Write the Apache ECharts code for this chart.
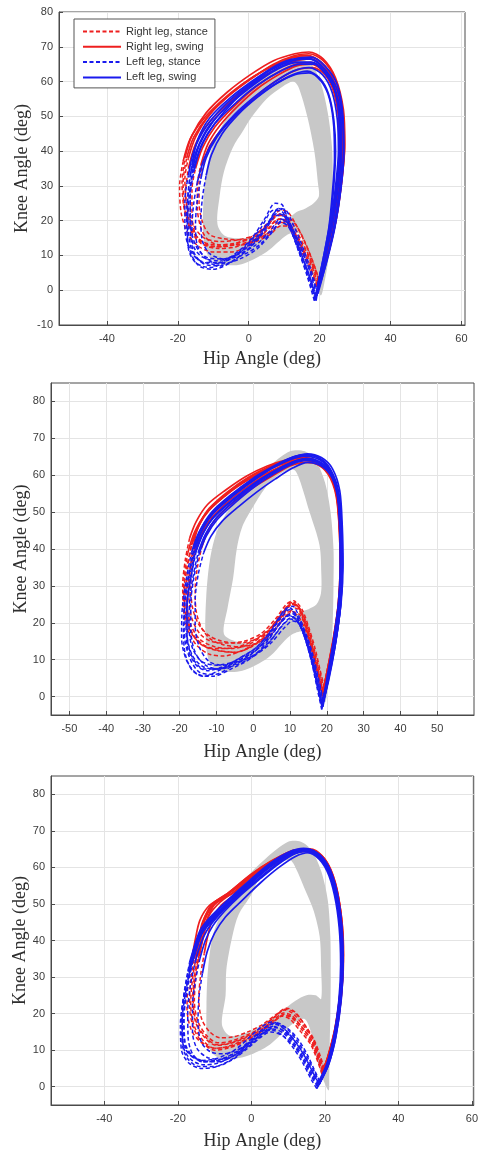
<!DOCTYPE html>
<html>
<head>
<meta charset="utf-8">
<title>Hip-knee angle-angle diagrams</title>
<script src="https://cdn.jsdelivr.net/npm/echarts@6/dist/echarts.min.js"></script>
<style>
  html, body { margin: 0; padding: 0; background: #ffffff; }
  #chart { width: 481px; height: 1154px; }
</style>
</head>
<body>
<div id="chart"></div>
<script>
// ---------- tick values ----------
const p1HipTicks = [-40, -20, 0, 20, 40, 60];
const p1KneeTicks = [-10, 0, 10, 20, 30, 40, 50, 60, 70, 80];
const p2HipTicks = [-50, -40, -30, -20, -10, 0, 10, 20, 30, 40, 50];
const p2KneeTicks = [0, 10, 20, 30, 40, 50, 60, 70, 80];
const p3HipTicks = [-40, -20, 0, 20, 40, 60];
const p3KneeTicks = [0, 10, 20, 30, 40, 50, 60, 70, 80];

// ---------- legend entries ----------
const legendNames = ['Right leg, stance', 'Right leg, swing', 'Left leg, stance', 'Left leg, swing'];

// ---------- normative band (outer edge and inner edge, clockwise) [hip, knee] ----------
const p1NormOuter = [[20.3,-1.5],[18,5],[16,12],[14,16.5],[11,16],[5,11],[-2,7.5],[-8,7.5],[-11.5,10],[-12.8,16],[-12.8,25],[-12,34],[-10,42],[-6,50],[-1,57],[5,62],[10.5,65.5],[14.5,66.5],[18,64.5],[20.5,59],[22.3,51],[23.5,41],[23.7,30],[23.4,20],[22.6,10],[21.5,3]];
const p1NormInner = [[19.8,27],[18.3,25],[16,23.5],[13.5,22.5],[10.5,20],[5,16.5],[-1,15],[-6.5,15.5],[-8.8,19],[-8.2,27],[-7,34],[-4.5,41],[-1.5,46],[1,50],[5,55],[9.5,58.5],[12.5,60],[14,58.5],[16.5,50],[18.5,40],[19.5,31]];

const p2NormOuter = [[19.5,-1.5],[17.5,6],[15.5,13],[13.5,17.5],[10,16.5],[4,10.5],[-3,7],[-9,7],[-12,9.5],[-13,17],[-12.8,27],[-11.8,37],[-9.8,45],[-5.8,52],[0,58.5],[5,63],[10,66.5],[14,66.5],[17,64],[19.5,58],[21,50],[21.8,40],[21.8,30],[21.6,20],[21,10],[20.3,3]];
const p2NormInner = [[18.4,28],[17.2,25],[15,23.7],[12.5,22.8],[10,21],[5,16.5],[0,14.5],[-5,15],[-8,17],[-7,24],[-5.5,32],[-4.5,40],[-3,46],[0,51.5],[3.6,57],[7.5,60.5],[11,61.5],[12.5,59],[15.3,50],[18,41],[18.5,33]];

const p3NormOuter = [[21,-1],[18.5,5],[16.5,14],[14.5,18.5],[11,17],[5,11.5],[-1,8.5],[-7,7.5],[-10.5,9],[-12,13],[-12.2,22],[-11.8,32],[-10.3,42],[-6.8,50],[-2,56.5],[4,62.5],[10,67],[13.5,67],[16.5,64.5],[19,59],[20.8,51],[21.5,41],[21.6,30],[21.5,20],[21.3,10],[21.2,3]];
const p3NormInner = [[19,24],[17.5,25],[15,25],[12,23.5],[8,20.5],[3,17],[-2,14.5],[-6,14],[-8,17],[-7,25],[-6.8,32],[-5.2,41],[-3.5,47],[0,52.5],[2.3,57],[7.5,61],[10.5,62],[12,60],[15,53],[17,48],[18.6,41],[19,32]];

// ---------- panel 1 trials [hip, knee] ----------
const p1RightStance = [
  [[19.5,2],[17.5,7.5],[14.5,13.5],[12,18.5],[10,21.5],[8,21.5],[5,18],[1,15],[-4,13.5],[-9,13],[-13,14],[-16,17],[-18,23],[-18.5,31],[-17.5,38]],
  [[19.8,3],[17.8,8],[15.5,13],[13,18],[11,21],[9,22],[6,19.5],[2,16],[-3,14.5],[-8,14],[-12.5,15],[-15.5,18.5],[-17.5,25],[-18,32],[-17,38]],
  [[19,1],[17,6.5],[14,13],[11.5,18],[9.5,20.5],[7.5,20],[4,16],[-0.5,12.5],[-5,11],[-10,11],[-14,12.5],[-17,16],[-19,22],[-19.5,30],[-18.5,37]],
  [[20,2.5],[18,8.5],[15.5,14.5],[13,19.5],[11,22.5],[9,23],[6,20],[2.5,16.5],[-2,14],[-7,12.5],[-11.5,13],[-15,16],[-17,21],[-17.8,28],[-17,35]],
  [[19.3,1.5],[17.2,7],[14.8,12.5],[12.5,17],[10.5,19.5],[8.5,19.5],[5,16],[0.5,14],[-4.5,13],[-9.5,12.5],[-13.5,13.5],[-16.5,17.5],[-18.3,24],[-18.8,31],[-18,38]],
  [[19.6,2.5],[17.8,7.5],[15.5,12.5],[13,16.5],[11,18.5],[9,18.5],[6,16],[2,14],[-3,13],[-8,13],[-11.5,14.5],[-13.5,18],[-14.5,24],[-14.5,30],[-13.5,36]],
  [[19.8,3],[18,8.5],[15.8,14],[13.5,18.5],[11.5,20.5],[9.5,20],[6.5,17],[2.5,15],[-2,14.5],[-7,14.8],[-11,16],[-13,19.5],[-14,25],[-14,31],[-13,36]],
  [[19.4,1],[17.4,6.5],[15,12],[12.5,17],[10.5,20],[8.5,20.5],[5.5,17.5],[1.5,14.5],[-3.5,12.5],[-8.5,12],[-12.5,13],[-15,16],[-16,22],[-16,29],[-15,35]]
];
const p1RightSwing = [
  [[-17.5,38],[-15.5,44],[-11.5,50],[-5.5,56],[1,61],[7,65],[13,67.5],[17,68],[21,66],[24.5,60.5],[26.5,51],[27,41],[26.2,31],[24.6,20],[22.6,11],[20.5,5],[19.5,2]],
  [[-17,38],[-15,44],[-11,50.5],[-5,56.5],[1.5,61.5],[8,65],[13.5,67],[17.5,67],[21.3,64.5],[24.5,59],[26.2,50],[26.5,40],[25.7,30],[24.2,20],[22.3,11],[20.6,5.5],[19.8,3]],
  [[-18.5,37],[-16.5,43.5],[-12.5,49.5],[-6.5,55.5],[0,60.5],[6.5,64.5],[12.5,67],[16.5,67.5],[20.5,65.5],[24,60],[26,51],[26.5,41],[25.8,31],[24.3,21],[22.2,11],[20,4],[19,1]],
  [[-17,35],[-15,42],[-11,48.5],[-5,54.5],[1,59.5],[7.5,63.5],[13.5,66],[17.5,66.5],[21.5,63.5],[24.8,58],[26.5,49],[26.7,39],[25.8,29],[24.2,19],[22.3,10],[20.7,4.5],[20,2.5]],
  [[-18,38],[-16,44.5],[-12,51],[-6,57],[0.5,62],[7,66],[13,68],[17,68.5],[21,66.5],[24.5,61],[26.7,52],[27.1,42],[26.3,32],[24.8,21],[22.5,11],[20.3,4],[19.3,1.5]],
  [[-13.5,36],[-11.5,42],[-8,47.5],[-3,53],[2.5,58],[8.5,62],[13.5,64.5],[17.5,65],[21,63],[23.8,58],[25.3,50],[25.6,41],[25,31],[23.8,21],[22,11.5],[20.5,5.5],[19.6,2.5]],
  [[-13,36],[-11,41.5],[-7,47],[-2,52],[3.5,57],[9,61],[14,63.5],[18,64],[21.5,62],[24,57],[25.5,49],[25.8,40],[25.2,30],[24,20],[22.2,11],[20.8,6],[19.8,3]],
  [[-15,35],[-13,41],[-9.5,47],[-4,53],[2,58.5],[8,62.5],[13.5,65],[17.5,65.5],[21.2,63.5],[24.2,58.5],[26,50],[26.3,40],[25.5,30],[24,20],[22.2,10.5],[20.3,4],[19.4,1]]
];
const p1LeftStance = [
  [[19,-3],[17.5,3],[15,10],[12.5,17],[10.5,22],[8.5,23.5],[6,20],[2,14],[-3,9.5],[-8,7],[-12.5,7.5],[-15.5,11],[-16.5,18],[-16.5,27],[-15.5,34]],
  [[18.8,-2.5],[16.5,5],[13.5,13],[11,20],[9.5,24.5],[7.5,25],[4.5,20.5],[0.5,14.5],[-4.5,10],[-10,7.5],[-14.5,9],[-17,13],[-17.5,21],[-17,29],[-16,36]],
  [[19.2,-1.5],[17.2,5.5],[14.8,12],[12.5,17.5],[10.5,21],[8,21.5],[4.5,17],[0,12],[-5,8],[-10,6],[-14,7],[-16.5,11],[-18,18],[-18,26],[-17,33]],
  [[18.5,-3],[16.5,4],[14,11.5],[11.5,18.5],[9.5,22.5],[7,23],[3.5,18],[-1,12.5],[-6,8.5],[-11,6.5],[-15,8],[-17,12],[-17.3,19],[-16.8,27],[-15.8,35]],
  [[19,-2],[17,4.5],[15,10],[13,15.5],[11,19.5],[9,20.5],[6,17],[2,13],[-2.5,10.5],[-7.5,9],[-12,9.5],[-15,13],[-16.5,20],[-16.5,28],[-15.5,35]],
  [[19.5,-1],[17.5,6],[15,13],[12.5,19],[10.5,23],[8.5,23.5],[5.5,19.5],[1.5,14.5],[-3,10.5],[-8,8],[-13,8],[-16,11.5],[-17,17],[-17.2,25],[-16.5,33]],
  [[19.3,-1],[17.8,4],[15.8,9.5],[13.5,15],[11.5,19],[9.5,20],[7,17.5],[3,13],[-2,10],[-7,9],[-11,10.5],[-13,14],[-13.5,20],[-13,27],[-12,33]],
  [[19,-2],[17.3,3.5],[15.3,9],[13,14.5],[11,18.5],[9,19.5],[6.5,16.5],[2.5,12],[-2.5,9],[-8,7.5],[-12,9],[-14.5,13],[-15,19],[-14.5,26],[-13.5,32]],
  [[18.8,-2.8],[16.8,4],[14.2,11],[11.8,17.5],[9.8,21.5],[7.8,22],[5,18.5],[1,13.5],[-4,10],[-9,8.5],[-13,9.5],[-15.5,12.5],[-16,18],[-15.5,25],[-14.5,31]]
];
const p1LeftSwing = [
  [[-15.5,34],[-13.5,41],[-9.5,48],[-4,54.5],[2,59.5],[8,63.5],[13.5,65.5],[18,65.5],[21.5,62.5],[24.5,57],[26,48],[26,38],[25,28],[23.5,18],[21.5,9],[19.8,2],[19,-3]],
  [[-16,36],[-14.5,43],[-11,49.5],[-5,55.5],[1.5,60.5],[7.5,64.5],[13,66.5],[17.5,66.5],[21.5,63.5],[25,57.5],[26.5,49],[26.8,39],[26,29],[24.3,18],[22.2,9],[20.2,2],[18.8,-2.5]],
  [[-17,33],[-15.5,40],[-12,47],[-6.5,53.5],[0,59],[6.5,63.5],[12.5,66],[17,66.5],[21,64],[24,58.5],[25.5,50],[25.8,40],[25,30],[23.5,20],[21.8,10],[20,3],[19.2,-1.5]],
  [[-15.8,35],[-13.8,42],[-10,48.5],[-4.5,54.5],[1.5,59.5],[7.5,63.5],[13,65.5],[17.5,65.5],[21.8,62],[24.8,56],[26.2,47],[26.2,37],[25.3,27],[23.8,17],[21.8,8],[19.6,1],[18.5,-3]],
  [[-15.5,35],[-13.2,42],[-9.5,48],[-3.5,54],[2.5,59],[9,63],[14.5,65],[18.5,65],[22,62],[24.5,57],[25.5,49],[25.5,39],[24.6,29],[23.2,19],[21.4,10],[19.8,3],[19,-2]],
  [[-16.5,33],[-14.8,40],[-11,47.5],[-5,54],[1,59.5],[7,64],[13,66.5],[17.5,67],[21.5,64.5],[25,59],[26.6,50],[26.8,40],[26,30],[24.6,20],[22.6,11],[20.6,3],[19.5,-1]],
  [[-12,33],[-10.5,39],[-7.5,45],[-3,50.5],[2.5,55.5],[8,59.5],[13,62],[17,62.5],[20.5,60],[22.8,55],[24,47],[24.2,38],[23.6,28],[22.6,18],[21,9],[19.8,3],[19.3,-1]],
  [[-13.5,32],[-12,38],[-9,44],[-4.5,49.5],[1,54.5],[7,59],[12.5,62],[16.5,63],[20,61],[22.5,56.5],[24,49],[24.5,40],[24,30],[23,20],[21.4,11],[20,4],[19,-2]],
  [[-14.5,31],[-12.5,38],[-9,44.5],[-4,50.5],[1.5,55.5],[7.5,60],[12.5,63],[17,64],[20.8,62],[23.5,57],[25,49],[25.3,40],[24.5,30],[23.2,20],[21.5,10],[19.8,3],[18.8,-2.8]]
];

// ---------- panel 2 trials ----------
const p2RightStance = [
  [[19,1],[17.8,6],[16.3,12.5],[14.5,19],[12.5,24],[10.5,25.5],[8,23],[4.5,18.5],[0.5,15.5],[-4,13.5],[-9,13],[-13,13.5],[-16,16],[-17.8,21],[-18.3,28],[-17.8,35],[-16.8,41]],
  [[18.7,0],[17.5,5.5],[16,12],[14.3,18.5],[12.5,23.5],[11,26],[9,25],[6,21],[2,17],[-2.5,15],[-7.5,14.5],[-11.5,15],[-14.5,17],[-16.8,21.5],[-17.5,28],[-17.2,34.5],[-16.3,40.5]],
  [[19.2,2],[18,7],[16.5,13],[14.8,19],[13,23],[11.3,24],[9,22],[5.5,18],[1.5,15],[-3,12.5],[-8,11],[-12,11.5],[-15.5,14],[-18,18.5],[-19,25],[-18.8,32],[-17.8,39]],
  [[18.9,1.5],[17.7,6.5],[16.2,13],[14.2,20],[12.2,24.5],[10.2,25],[7.5,22],[4,17.5],[0,14],[-4.5,12],[-9.5,12.5],[-13.5,14],[-16.5,17],[-18.3,22],[-18.8,28.5],[-18,35.5],[-16.5,42]],
  [[19.1,0.5],[17.8,5.5],[16.2,12],[14.2,18],[12,22],[9.8,23],[7,20.5],[3.5,16.5],[-0.5,13.5],[-5,12],[-10,12.5],[-14,14],[-17,17.5],[-18.8,23],[-19.2,30],[-18.5,37],[-17.3,43]],
  [[19,1.5],[17.8,6.5],[16.4,12.5],[14.6,18],[12.8,22],[10.8,23],[8.3,21],[5,17],[1,14.5],[-3.5,13.5],[-8,14],[-11.5,15.5],[-14,18.5],[-15.5,23],[-15.8,29],[-15.2,35],[-14,40.5]],
  [[18.8,1],[17.6,6],[16.1,12.5],[14.3,19],[12.4,24],[10.5,25],[8,22],[4.5,18],[0.5,15.5],[-4,14.5],[-8.5,15],[-12,16.5],[-14.8,19.5],[-16.5,24],[-17,30],[-16.5,36],[-15.3,41.5]],
  [[19.3,2.5],[18.2,7],[16.8,13],[15,19],[13.3,23.5],[11.5,25.5],[9.2,24],[6,20],[2.5,16.5],[-1.5,14],[-6,13],[-10.5,13.5],[-14.5,15.5],[-17,19.5],[-18,25.5],[-17.6,32],[-16.3,38.5]]
];
const p2RightSwing = [
  [[-16.8,41],[-15,46],[-12,50.5],[-7,55],[-1,59],[4.5,61.8],[9.5,63.5],[13.5,64.3],[17.5,63.5],[20.8,60.5],[22.8,54.5],[23.6,45],[23.8,35],[23.3,25],[21.8,15],[20.3,7],[19,1]],
  [[-16.3,40.5],[-15.3,45],[-13,49.5],[-8.5,54],[-2.5,58.5],[3,61.5],[8.5,63.5],[12.5,64.2],[16.8,63.3],[20.3,60.3],[22.5,54.5],[23.4,45],[23.6,35],[23.1,25],[21.6,15],[20,6.5],[18.7,0]],
  [[-17.8,39],[-16,44.5],[-13,49.5],[-7.5,54.5],[-1.5,59],[4,62],[9,64],[13,64.8],[17,64],[20.5,61],[22.7,55],[23.6,45.5],[23.8,35.5],[23.3,25.5],[21.9,15.5],[20.5,7.5],[19.2,2]],
  [[-16.5,42],[-14.8,46.5],[-12,51],[-7,55.5],[-1.2,59.5],[4.2,62.3],[9.2,64],[13.2,64.6],[17.2,63.8],[20.6,60.8],[22.8,55],[23.7,45.5],[23.9,35.5],[23.4,25.5],[21.9,15.5],[20.3,7],[18.9,1.5]],
  [[-17.3,43],[-15.5,47.5],[-12.5,52],[-7.5,56],[-1.8,59.8],[3.8,62.5],[9,64.2],[13,64.8],[17,64],[20.4,61],[22.6,55],[23.5,45],[23.7,35],[23.2,25],[21.8,15],[20.4,6.5],[19.1,0.5]],
  [[-14,40.5],[-12.3,45],[-9.5,49],[-5,53],[0.5,57],[5.5,60],[10,62.5],[14,63.5],[17.8,62.8],[20.9,59.8],[22.7,54],[23.4,45],[23.6,35],[23.1,25],[21.7,15],[20.2,7.5],[19,1.5]],
  [[-15.3,41.5],[-13.5,46],[-10.8,50.3],[-6.3,54.3],[-0.5,58.3],[5,61.2],[9.8,63.3],[13.8,64],[17.6,63.2],[20.7,60.2],[22.7,54.5],[23.5,45],[23.7,35],[23.2,25],[21.7,15],[20.1,7],[18.8,1]],
  [[-16.3,38.5],[-14.3,43.8],[-11.3,48.5],[-6.3,53.3],[-0.3,57.8],[5.2,61],[10.2,63.3],[14.2,64.2],[18,63.4],[21,60.4],[23,54.7],[23.8,45.2],[24,35.2],[23.5,25.2],[22,15.2],[20.5,7.5],[19.3,2.5]]
];
const p2LeftStance = [
  [[18.7,-3],[17.3,3.5],[15.8,10.5],[13.8,17.5],[11.8,22],[9.8,23.5],[7.2,21],[3.5,15.5],[-0.5,11.5],[-5.5,8.5],[-10.5,6],[-14.5,6.5],[-17.3,10.5],[-18.8,17.5],[-18.7,25.5],[-17.6,33],[-16,40]],
  [[18.5,-2],[17.2,4],[15.5,11],[13.5,17.5],[11.5,21],[9.5,22],[7,19.5],[3.5,14.5],[-0.5,10.5],[-6,7.5],[-11,5.5],[-15,6],[-18,9.5],[-19.5,16],[-19.3,24],[-18.2,32],[-16.8,39]],
  [[19,-1.5],[17.8,4],[16.2,10],[14.5,16],[12.5,20.5],[10.5,22.5],[8,21],[4.5,16.5],[0.5,12.5],[-4.5,9.5],[-9.5,7.5],[-13.5,7.5],[-16.5,10.5],[-18,16.5],[-18,24],[-17,32],[-15.5,39.5]],
  [[18.6,-3.5],[17.3,2.5],[15.8,9.5],[13.8,16.5],[11.8,21.5],[10,24],[7.8,22.5],[4.5,17.5],[0.5,13],[-4.5,10],[-9.5,7],[-13.5,5.5],[-16.5,7],[-18.5,11.5],[-19,18.5],[-18.5,26],[-17.5,33],[-16.2,40]],
  [[18.8,-2.5],[17.5,3],[16,9.5],[14.2,15.5],[12.3,20],[10.5,21.5],[8,19.5],[4.5,15],[0.5,11.5],[-4.5,9],[-9.5,7.5],[-13.5,8],[-16.5,11],[-18,17],[-18,24.5],[-17,32],[-15.8,39]],
  [[18.9,-2.8],[17.6,3.5],[16.2,10],[14.3,16.8],[12.5,21.5],[10.7,24.5],[8.5,23.5],[5,18],[1,13.5],[-3.5,10.5],[-8.5,8],[-12.5,7],[-15.5,8.5],[-17.8,13],[-18.3,20],[-17.8,28],[-16.8,35],[-15.5,41]],
  [[19,-1],[17.8,4.5],[16.4,10.5],[14.7,16],[12.8,19.5],[10.8,20.5],[8.3,18.5],[4.8,14.5],[0.8,11.5],[-4,9.5],[-8.5,8.5],[-12,9.5],[-14.5,13],[-15.8,19],[-15.8,26],[-15,33],[-13.5,39]],
  [[18.8,-2],[17.5,4],[16,10],[14.2,16],[12.2,20],[10.2,21],[7.7,19],[4.2,14.5],[0.2,11],[-4.8,8.5],[-9.5,7.5],[-13,8.5],[-15.8,12],[-17,18],[-17,25],[-16.2,32],[-14.8,38.5]],
  [[18.7,-2.5],[17.4,3],[15.9,9.5],[14,16],[12,20.5],[10,22],[7.5,20],[4,15.5],[0,12],[-5,9.5],[-10,8.5],[-14,9.5],[-16.5,13],[-17.5,19],[-17.3,26],[-16.3,33],[-15,39]]
];
const p2LeftSwing = [
  [[-16,40],[-14,45],[-11,49.5],[-6,54],[0,58.5],[5,61.8],[10,64.2],[14,65.2],[18,64.2],[21,61.2],[23,55],[23.8,45],[24,35],[23.5,25],[22,14],[20.3,5],[18.7,-3]],
  [[-16.8,39],[-14.8,44.5],[-11.8,49],[-6.8,53.8],[-0.5,58.5],[4.8,61.8],[9.8,64.5],[13.8,65.5],[17.8,64.7],[21,61.5],[23.2,55.5],[24,45.5],[24.2,35],[23.7,25],[22.2,14],[20.3,5],[18.5,-2]],
  [[-15.5,39.5],[-13.5,44.5],[-10.5,49],[-5.5,53.5],[0.5,58],[5.5,61],[10.5,63.5],[14.5,64.5],[18.2,63.5],[21.2,60.5],[23.2,54.5],[24,44.5],[24.2,34.5],[23.7,24.5],[22.2,13.5],[20.5,4.5],[19,-1.5]],
  [[-16.2,40],[-14.3,45.3],[-11.3,50],[-6.3,54.5],[-0.3,59],[4.7,62],[9.7,64.5],[13.7,65.5],[17.7,64.8],[20.8,61.8],[22.8,56],[23.6,46],[23.8,36],[23.3,26],[21.8,15],[20.1,5.5],[18.6,-3.5]],
  [[-15.8,39],[-13.8,44],[-10.8,48.5],[-5.8,53],[0.2,57.5],[5.2,60.8],[10.2,63.3],[14.2,64.3],[18.2,63.3],[21.2,60.3],[23.2,54.3],[24,44.3],[24.2,34.3],[23.7,24.3],[22.2,13.5],[20.4,4.5],[18.8,-2.5]],
  [[-15.5,41],[-13.5,46],[-10.3,50.5],[-5.3,55],[0.7,59.5],[5.7,62.3],[10.7,64.8],[14.7,65.8],[18.5,64.8],[21.5,61.8],[23.5,55.8],[24.2,45.8],[24.4,35.8],[23.9,25.8],[22.4,15],[20.6,6],[18.9,-2.8]],
  [[-13.5,39],[-11.5,43.5],[-8.5,47.5],[-4,51.5],[1,55.5],[6,59],[10.8,62],[14.8,63.5],[18.5,62.5],[21.3,59.5],[22.9,54],[23.5,45],[23.6,35],[23.1,25],[21.7,14.5],[20.3,5.5],[19,-1]],
  [[-14.8,38.5],[-12.8,43.5],[-9.8,48],[-5,52.5],[0.5,57],[5.5,60.3],[10.5,63],[14.5,64],[18.3,63],[21.2,60],[23,54.5],[23.7,45],[23.9,35],[23.4,25],[22,14],[20.4,5],[18.8,-2]],
  [[-15,39],[-13,44],[-10,48.5],[-5.2,53],[0.3,57.3],[5.3,60.5],[10.3,63.3],[14.3,64.5],[18.1,63.6],[21.1,60.6],[23,55],[23.8,45],[24,35],[23.5,25],[22.1,14],[20.4,5],[18.7,-2.5]]
];

// ---------- panel 3 trials ----------
const p3RightStance = [
  [[19.5,4.5],[18.4,7.5],[16.5,12.5],[14,16],[11,19.5],[8.8,20.2],[6,18.2],[2,15.2],[-2,13.2],[-6,11.8],[-9.5,11.3],[-12.5,13.2],[-15,17.2],[-16,23],[-15.5,30],[-14.5,36]],
  [[19.2,3.5],[18.2,6.5],[16.2,11.5],[13.5,15],[10.5,18.5],[8.3,19.3],[5.5,17.3],[1.5,14.5],[-2.5,12.5],[-6.5,11],[-10,10.5],[-13,12.5],[-15.5,16.5],[-16.5,22.5],[-16,29.5],[-15,35.5]],
  [[19.8,5],[18.9,8],[17,13],[14.5,17],[11.5,20.5],[9.3,21.2],[6.5,19.2],[2.5,16],[-1.5,14],[-5.5,12.5],[-9,12],[-12,13.8],[-14.5,17.8],[-15.5,23.5],[-15,30.5],[-14,36.5]],
  [[19.3,4],[18.3,7],[16.3,12],[13.8,15.5],[10.8,19],[8.5,19.5],[5.5,17.3],[1.5,14.2],[-2.5,12],[-6.5,10.5],[-10,10],[-13.2,12],[-15.7,16],[-16.8,22],[-16.5,29],[-15.5,35]],
  [[19.6,4.8],[18.6,7.8],[16.8,12.8],[14.3,16.5],[11.3,20],[9,21],[6.2,19],[2.2,15.8],[-1.8,13.5],[-5.8,12],[-9.3,11.5],[-12.2,13.3],[-14.8,17.2],[-15.8,23.2],[-15.3,30.2],[-14.2,36]],
  [[19.4,4.2],[18.4,7.2],[16.6,12.2],[14.2,15.8],[11.2,19],[9,19.8],[6.2,17.8],[2.2,14.8],[-1.8,12.6],[-5.8,11],[-9.8,10.5],[-13.5,12],[-16.3,15.5],[-17.5,21.5],[-17.2,28.5],[-16.2,35]],
  [[19.7,4.6],[18.7,7.6],[16.9,12.6],[14.6,16.8],[11.8,20.5],[9.6,21.5],[6.8,19.8],[3,17],[-1,15],[-5,13.6],[-8.5,13.4],[-11.3,15],[-13.5,18.5],[-14.3,24],[-13.8,30.5],[-12.8,36.5]]
];
const p3RightSwing = [
  [[-14.5,36],[-13.5,41.5],[-12.5,46],[-10,50],[-5,53],[0,57.5],[6,61.5],[11.5,64.3],[16,64.8],[19.8,62],[22.5,55.5],[24.2,46],[24.8,36],[24.4,26],[23,16],[21,8.5],[19.5,4.5]],
  [[-15,35.5],[-14,41],[-13,45.5],[-10.8,49.8],[-6,53.2],[-0.5,57.8],[5.5,61.8],[11,64.5],[15.5,65],[19.5,62.3],[22.3,55.8],[24,46.3],[24.6,36.3],[24.2,26.3],[22.8,16.3],[20.8,8.3],[19.2,3.5]],
  [[-14,36.5],[-13,42],[-11.8,46.5],[-9.5,50.5],[-4.5,54],[0.5,58.2],[6.5,62.2],[12,64.8],[16.3,65],[20,62.3],[22.8,56],[24.5,46.5],[25,36.5],[24.6,26.5],[23.3,16.5],[21.3,9],[19.8,5]],
  [[-15.5,35],[-14.3,40.5],[-13.3,45],[-11,49],[-6.5,52.5],[-1,57],[5,61],[10.5,63.8],[15.2,64.5],[19.3,62],[22.2,55.5],[24,46],[24.6,36],[24.2,26],[22.8,16],[20.8,8],[19.3,4]],
  [[-14.2,36],[-12.8,42],[-11.5,46.8],[-8.5,50.5],[-3.8,54],[1.2,58.3],[7.2,62.5],[12.5,64.7],[16.6,64.6],[20.2,61.8],[22.9,55.2],[24.6,45.8],[25.1,35.8],[24.6,25.8],[23.2,15.8],[21.2,8.6],[19.6,4.8]],
  [[-16.2,35],[-15.2,40.5],[-14,45.5],[-11.5,49.5],[-7,52.5],[-2,56.5],[4,60.8],[10,63.8],[15,64.7],[19.2,62.2],[22.2,55.8],[24.1,46.2],[24.7,36.2],[24.3,26.2],[22.9,16.2],[20.9,8.4],[19.4,4.2]],
  [[-12.8,36.5],[-11.8,41.5],[-10.5,46],[-8,49.8],[-3.5,53.2],[1.5,57.5],[7.5,61.7],[12.8,64.3],[16.8,64.5],[20.3,61.8],[22.9,55.5],[24.5,46],[25,36],[24.5,26],[23.1,16],[21.1,8.6],[19.7,4.6]]
];
const p3LeftStance = [
  [[18.3,0.5],[16.8,3],[14.5,7.5],[12,11.5],[9,15],[6,16.5],[3.5,15.5],[0,12.5],[-4,9],[-9,6.5],[-13,6],[-16.5,7.5],[-18.5,11],[-18.8,18],[-18,25],[-16.5,33]],
  [[17.8,-0.5],[16.3,2],[14,6.5],[11.5,10.5],[8.5,14],[5.5,15.5],[3,14.5],[-0.5,11.5],[-4.5,8],[-9.5,5.5],[-13.5,5],[-17,6.5],[-19,10],[-19.3,17],[-18.5,24],[-17.2,31.5]],
  [[18.6,1],[17.2,4],[15,8.5],[12.5,12.5],[9.5,16],[6.8,17.5],[4.2,16.5],[0.8,13.5],[-3.2,10],[-8.2,7.5],[-12.5,7],[-16,8.5],[-18,12],[-18.3,19],[-17.5,26],[-16,34]],
  [[18,0],[16.5,2.5],[14.2,7],[11.7,11],[8.5,14],[5.2,15],[2.5,13.5],[-1,10.5],[-5,7.5],[-10,5.5],[-14,5.5],[-17.2,7.5],[-18.8,12],[-18.8,19.5],[-17.8,27],[-16.2,35]],
  [[18.5,0.8],[17,3.5],[14.8,8],[12.3,12],[9.3,15.5],[6.3,17.2],[3.8,16.3],[0.3,13.3],[-3.7,9.8],[-8.7,7.3],[-12.7,6.8],[-16.2,8.3],[-18.2,11.8],[-18.5,18.8],[-17.7,25.8],[-16.8,31]],
  [[18.2,1.2],[16.7,4],[14.4,8.5],[11.8,12.5],[8.8,16],[5.8,17.7],[3.3,16.8],[-0.2,13.8],[-4.2,10.3],[-9.2,7.8],[-13.2,7.2],[-16.7,8.7],[-18.7,12.2],[-19,19.2],[-18.2,26.2],[-16.8,34]],
  [[18.6,1.5],[17.2,4.5],[15.1,9],[12.7,13],[9.8,16],[7,17],[4.5,15.8],[1,13],[-3,10.5],[-7.5,9],[-11,9.5],[-13.5,12],[-14.5,17],[-14.3,24],[-13.3,31]],
  [[18.4,0.5],[16.9,3.5],[14.7,8],[12.2,12],[9.2,15],[6.4,16.2],[3.9,15],[0.4,12],[-3.6,9],[-8.4,7.5],[-12,8],[-14.8,10.5],[-16,15],[-16,22],[-15.2,29],[-14,35]],
  [[18.1,0.2],[16.6,2.8],[14.3,7.2],[11.8,11.2],[8.8,14.6],[5.9,15.8],[3.3,14.8],[-0.3,12],[-4.3,8.8],[-9.3,6.8],[-13.3,6.8],[-16,9],[-17.2,13.5],[-17.3,20.5],[-16.6,27.5],[-15.3,34]]
];
const p3LeftSwing = [
  [[-16.5,33],[-15,38],[-13.5,42],[-10.5,45.8],[-6,50.3],[0,56],[5.5,60.8],[10.5,63.8],[14.5,64.8],[18,63.5],[21,59.5],[23,53],[24.3,44],[24.7,34],[24.2,24],[22.8,14],[20.8,6],[18.3,0.5]],
  [[-17.2,31.5],[-15.8,37],[-14.2,41.5],[-11.2,45.3],[-6.7,49.8],[-0.5,55.5],[5,60.3],[10,63.5],[14.2,64.5],[17.8,63.2],[20.8,59.2],[22.8,52.8],[24.1,43.8],[24.5,33.8],[24,23.8],[22.5,13.5],[20.3,5],[17.8,-0.5]],
  [[-16,34],[-14.5,39],[-13,43],[-10,46.8],[-5.5,51.2],[0.5,56.8],[6,61.3],[11,64.2],[15,65],[18.4,63.6],[21.3,59.6],[23.3,53.2],[24.6,44.2],[25,34.2],[24.5,24.2],[23.1,14.2],[21.1,6.3],[18.6,1]],
  [[-16.2,35],[-14.6,40],[-12.8,43.8],[-9.8,47.5],[-5.3,51.8],[0.7,57.2],[6.2,61.5],[11.2,64.2],[15,64.8],[18.2,63.2],[21,59],[22.9,52.5],[24.1,43.5],[24.5,33.5],[24,23.5],[22.6,13.5],[20.5,5.5],[18,0]],
  [[-16.8,31],[-15.6,36.5],[-14,41],[-11,45],[-6.5,49.5],[-0.5,55.2],[5,60],[10,63.2],[14,64.3],[17.6,63],[20.6,59],[22.6,52.5],[23.9,43.5],[24.3,33.5],[23.8,23.5],[22.4,13.5],[20.5,5.8],[18.5,0.8]],
  [[-16.8,34],[-15.3,39],[-13.8,43],[-10.8,46.8],[-6.3,51.2],[-0.3,56.6],[5.2,61.2],[10.2,64.2],[14.2,65.2],[17.8,63.9],[20.8,59.9],[22.8,53.4],[24.1,44.4],[24.5,34.4],[24,24.4],[22.6,14.4],[20.6,6.4],[18.2,1.2]],
  [[-13.3,31],[-12,37],[-10,42],[-7,46.5],[-2.5,51],[2.5,55.8],[7.5,60],[12,63],[15.5,64],[18.6,62.8],[21.3,58.8],[23.2,52.3],[24.4,43.3],[24.7,33.3],[24.2,23.3],[22.8,13.3],[20.8,5.8],[18.6,1.5]],
  [[-14,35],[-12.5,40],[-10.5,44],[-7.3,48],[-2.8,52.5],[2.5,57],[7.5,61],[12,63.8],[15.8,64.6],[18.8,63.2],[21.5,59.2],[23.4,52.8],[24.6,43.8],[24.9,33.8],[24.4,23.8],[23,13.8],[21,6],[18.4,0.5]],
  [[-15.3,34],[-13.8,39],[-11.8,43.2],[-8.6,47.2],[-4,51.7],[1.5,56.5],[6.8,60.8],[11.5,63.7],[15.3,64.6],[18.5,63.2],[21.2,59.2],[23.1,52.8],[24.3,43.8],[24.6,33.8],[24.1,23.8],[22.7,13.8],[20.6,5.8],[18.1,0.2]]
];

// ---------- styling ----------
const RIGHT_COLOR = '#ee1f1f';
const LEFT_COLOR = '#1a1aee';
const BAND_COLOR = '#c8c8c8';
const AXIS_COLOR = '#4a4a4a';
const GRID_LINE = '#e4e4e4';
const LABEL_COLOR = '#3c3c3c';
const SANS = '"Liberation Sans", Arial, Helvetica, sans-serif';
const SERIF = '"Liberation Serif", "Times New Roman", serif';

const panels = [
  { grid: { left: 59, top: 12, width: 406, height: 313 }, x: [-53.5, 61], y: [-10, 80],
    hipTicks: p1HipTicks, kneeTicks: p1KneeTicks, xGap: 25, yGap: 28,
    outer: p1NormOuter, inner: p1NormInner,
    rs: p1RightStance, rw: p1RightSwing, ls: p1LeftStance, lw: p1LeftSwing },
  { grid: { left: 51, top: 383, width: 423, height: 332 }, x: [-55, 60], y: [-5, 85],
    hipTicks: p2HipTicks, kneeTicks: p2KneeTicks, xGap: 28, yGap: 21,
    outer: p2NormOuter, inner: p2NormInner,
    rs: p2RightStance, rw: p2RightSwing, ls: p2LeftStance, lw: p2LeftSwing },
  { grid: { left: 51, top: 776, width: 423, height: 329 }, x: [-54.5, 60.5], y: [-5, 85],
    hipTicks: p3HipTicks, kneeTicks: p3KneeTicks, xGap: 27, yGap: 22,
    outer: p3NormOuter, inner: p3NormInner,
    rs: p3RightStance, rw: p3RightSwing, ls: p3LeftStance, lw: p3LeftSwing }
];

function axisCommon(ticks, labelMargin) {
  return {
    nameMoveOverlap: false,
    axisLine: { show: true, onZero: false, lineStyle: { color: AXIS_COLOR, width: 1 } },
    axisTick: { show: true, inside: true, length: 4, customValues: ticks, lineStyle: { color: AXIS_COLOR } },
    axisLabel: { customValues: ticks, margin: labelMargin, color: LABEL_COLOR, fontSize: 11, fontFamily: SANS },
    splitLine: { show: true, lineStyle: { color: GRID_LINE, width: 1 } }
  };
}

// Normative band: ring between an outer and an inner closed edge.
function bandSeries(outer, inner, gi) {
  return {
    type: 'custom', name: 'norm', xAxisIndex: gi, yAxisIndex: gi, silent: true, z: 1,
    data: [outer[0]],
    renderItem: function (params, api) {
      const outerPts = outer.map(function (p) { return api.coord(p); });
      const innerPts = inner.slice().reverse().map(function (p) { return api.coord(p); });
      return {
        type: 'compoundPath',
        shape: { paths: [
          { type: 'polygon', shape: { points: outerPts, smooth: 0.3 } },
          { type: 'polygon', shape: { points: innerPts, smooth: 0.3 } }
        ] },
        style: { fill: BAND_COLOR, stroke: null }
      };
    }
  };
}

function traceSeries(name, trial, gi, color, dashed) {
  return {
    type: 'line', name: name, xAxisIndex: gi, yAxisIndex: gi,
    data: trial, smooth: 0.3, symbol: 'none', showSymbol: false, silent: true, z: 2,
    lineStyle: { color: color, width: dashed ? 1.5 : 1.7, type: dashed ? [4, 2.5] : 'solid' },
    itemStyle: { color: color }
  };
}

const grids = [], xAxes = [], yAxes = [], series = [];
panels.forEach(function (p, gi) {
  grids.push(Object.assign({ show: true, borderColor: AXIS_COLOR, borderWidth: 1, backgroundColor: '#ffffff' }, p.grid));
  xAxes.push(Object.assign({
    type: 'value', gridIndex: gi, min: p.x[0], max: p.x[1], position: 'bottom',
    name: 'Hip Angle (deg)', nameLocation: 'middle', nameGap: p.xGap,
    nameTextStyle: { fontFamily: SERIF, fontSize: 18, color: '#2e2e2e' }
  }, axisCommon(p.hipTicks, 8)));
  yAxes.push(Object.assign({
    type: 'value', gridIndex: gi, min: p.y[0], max: p.y[1], position: 'left',
    name: 'Knee Angle (deg)', nameLocation: 'middle', nameGap: p.yGap, nameRotate: 90,
    nameTextStyle: { fontFamily: SERIF, fontSize: 18, color: '#2e2e2e' }
  }, axisCommon(p.kneeTicks, 6)));

  series.push(bandSeries(p.outer, p.inner, gi));
  p.rs.forEach(function (t) { series.push(traceSeries(legendNames[0], t, gi, RIGHT_COLOR, true)); });
  p.rw.forEach(function (t) { series.push(traceSeries(legendNames[1], t, gi, RIGHT_COLOR, false)); });
  p.ls.forEach(function (t) { series.push(traceSeries(legendNames[2], t, gi, LEFT_COLOR, true)); });
  p.lw.forEach(function (t) { series.push(traceSeries(legendNames[3], t, gi, LEFT_COLOR, false)); });
});

const chart = echarts.init(document.getElementById('chart'), null, { renderer: 'canvas' });
chart.setOption({
  animation: false,
  backgroundColor: '#ffffff',
  legend: {
    data: legendNames, orient: 'vertical', left: 74, top: 19,
    itemWidth: 38, itemHeight: 11, itemGap: 4.3,
    padding: [7, 7, 5, 8],
    borderColor: '#555555', borderWidth: 1, backgroundColor: '#ffffff',
    selectedMode: false,
    itemStyle: { opacity: 0 },
    textStyle: { fontFamily: SANS, fontSize: 11, color: '#333333' }
  },
  grid: grids,
  xAxis: xAxes,
  yAxis: yAxes,
  series: series
});
</script>
</body>
</html>
